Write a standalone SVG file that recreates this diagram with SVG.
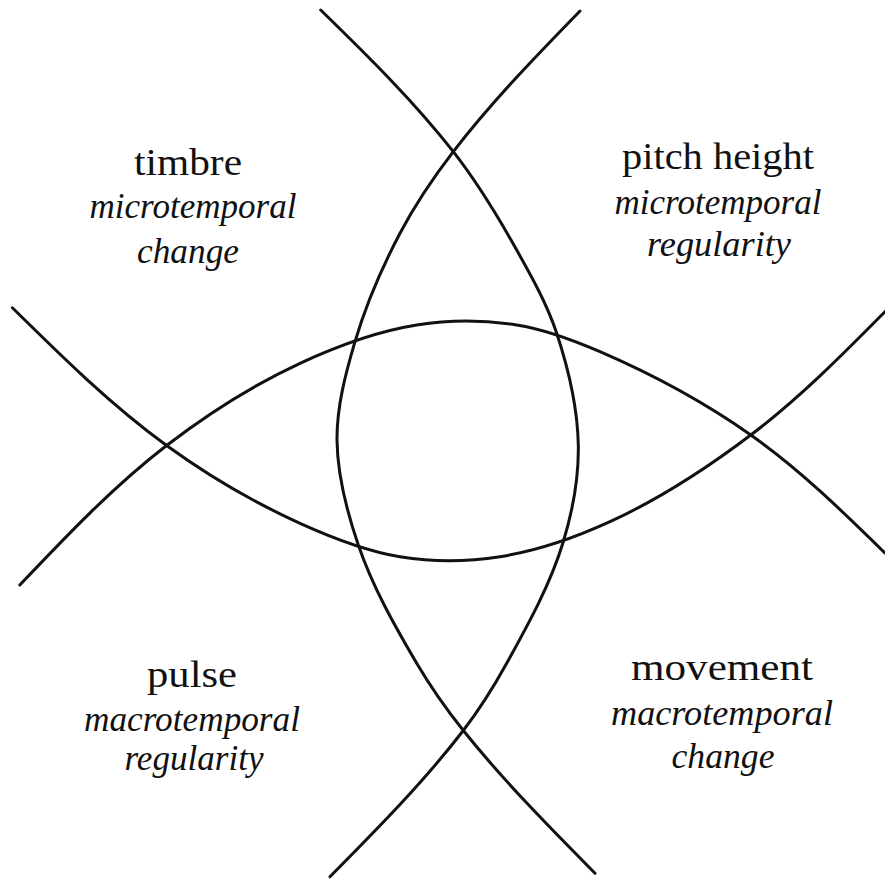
<svg xmlns="http://www.w3.org/2000/svg" width="885" height="879" viewBox="0 0 885 879">
<style>
.curve{fill:none;stroke:#111;stroke-width:3;stroke-linecap:round;stroke-linejoin:round}
.t{font-family:"Liberation Serif","Times New Roman",serif;fill:#111;text-anchor:middle}
.up{font-size:38px}
.it{font-size:36px;font-style:italic}
</style>
<rect width="885" height="879" fill="#fff"/>
<g id="connectors">
<path id="arc-right" class="curve" d="M320.7,10 C366.97,55.21 413.51,100.69 453.3,151.7 C477.28,182.44 497.66,215.98 516.7,250 C531.74,276.88 547.03,304.06 556.7,333.3 C568.61,369.3 577.59,407.09 578.3,445 C578.91,477.61 572.78,510.49 563.3,541.7 C550.31,584.48 528.31,624.16 506.7,663.3 C493.81,686.65 479.57,709.37 463.3,730.5 C423.06,782.75 376.41,829.84 330,876.7"/>
<path id="arc-left" class="curve" d="M580,11 C535.99,56.24 491.78,101.69 453.3,151.7 C433.49,177.45 415.18,204.57 400,233.3 C381.73,267.89 366.08,304.18 355,341.7 C345.56,373.64 336.68,406.69 337,440 C337.34,475.71 346.75,511.21 358.3,545 C372.52,586.61 394.37,625.41 416.7,663.3 C430.54,686.79 446.25,709.23 463.3,730.5 C503.79,781.02 549.48,827.26 595,873.3"/>
<path id="arc-up" class="curve" d="M19.8,585 C66.27,536.03 113.11,486.68 166.6,445.5 C207.99,413.64 252.63,385.29 300,363.3 C337.13,346.06 376.27,331.46 416.7,325 C449.62,319.74 483.77,319.85 516.7,325 C545.51,329.51 573.23,340.15 600,351.7 C652.73,374.45 703.83,401.96 750.8,435 C799.52,469.27 842.44,511.32 885,553"/>
<path id="arc-down" class="curve" d="M12.4,307.8 C61.44,356.21 110.86,404.99 166.6,445.5 C208.24,475.76 253.1,502.06 300,523.3 C332.01,537.8 365.32,551.06 400,556.7 C432.9,562.05 467.06,561.81 500,556.7 C538.03,550.8 575.02,537.74 610,521.7 C660.1,498.72 706.84,468.25 750.8,435 C799.25,398.36 842.27,354.88 885,311.7"/>
</g>
<g id="timbre">
<text class="t up" x="188" y="175" textLength="108" lengthAdjust="spacingAndGlyphs">timbre</text>
<text class="t it" x="193" y="218" textLength="207" lengthAdjust="spacingAndGlyphs">microtemporal</text>
<text class="t it" x="188" y="263" textLength="102" lengthAdjust="spacingAndGlyphs">change</text>
</g>
<g id="pitch-height">
<text class="t up" x="718" y="169" textLength="192" lengthAdjust="spacingAndGlyphs">pitch height</text>
<text class="t it" x="718" y="214" textLength="207" lengthAdjust="spacingAndGlyphs">microtemporal</text>
<text class="t it" x="719" y="256" textLength="144" lengthAdjust="spacingAndGlyphs">regularity</text>
</g>
<g id="pulse">
<text class="t up" x="192" y="687" textLength="90" lengthAdjust="spacingAndGlyphs">pulse</text>
<text class="t it" x="192" y="731" textLength="216" lengthAdjust="spacingAndGlyphs">macrotemporal</text>
<text class="t it" x="194" y="770" textLength="139" lengthAdjust="spacingAndGlyphs">regularity</text>
</g>
<g id="movement">
<text class="t up" x="722" y="680" textLength="182" lengthAdjust="spacingAndGlyphs">movement</text>
<text class="t it" x="722" y="725" textLength="222" lengthAdjust="spacingAndGlyphs">macrotemporal</text>
<text class="t it" x="723" y="768" textLength="103" lengthAdjust="spacingAndGlyphs">change</text>
</g>
</svg>
